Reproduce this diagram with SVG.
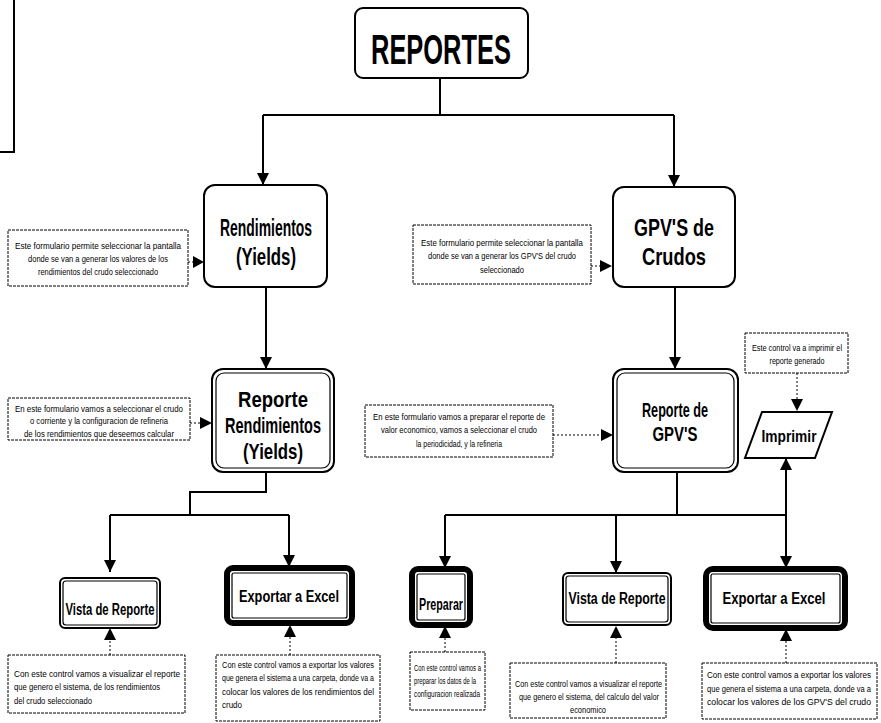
<svg xmlns="http://www.w3.org/2000/svg" width="881" height="723" viewBox="0 0 881 723">
  <defs>
    <marker id="arrow" viewBox="0 0 12 12" refX="12" refY="6" markerWidth="12" markerHeight="12" markerUnits="userSpaceOnUse" orient="auto">
      <path d="M0,0 L12,6 L0,12 Z" fill="#000"/>
    </marker>
    <style>
      .title { font-family: "Liberation Sans Narrow", "Liberation Sans", Arial, sans-serif; font-weight: bold; fill: #000; text-anchor: middle; }
      .desc { font-family: "Liberation Sans Narrow", "Liberation Sans", Arial, sans-serif; font-size: 9.5px; fill: #000; }
      .small { font-size: 8.5px; }
      .c { text-anchor: middle; }
      .box { fill: #fff; stroke: #000; stroke-width: 2; }
      .thin { fill: none; stroke: #000; stroke-width: 1.2; }
      .heavy { fill: #fff; stroke: #000; stroke-width: 6; }
      .note { fill: #fff; stroke: #000; stroke-width: 1; stroke-dasharray: 3 1; }
      .wire { fill: none; stroke: #000; stroke-width: 2; }
      .dot { fill: none; stroke: #000; stroke-width: 1; stroke-dasharray: 2 2; }
    </style>
  </defs>

  <!-- margin bracket -->
  <path d="M14,0 L14,152 L0,152" fill="none" stroke="#000" stroke-width="2"/>

  <!-- connectors -->
  <g id="connectors">
    <path class="wire" d="M440,78 V115 M263,115 H674"/>
    <path class="wire" d="M263,115 V185" marker-end="url(#arrow)"/>
    <path class="wire" d="M674,115 V187" marker-end="url(#arrow)"/>
    <path class="wire" d="M266,287 V369" marker-end="url(#arrow)"/>
    <path class="wire" d="M675,287 V369" marker-end="url(#arrow)"/>

    <path class="wire" d="M266,472 V492 H190 V515 M110,515 H289"/>
    <path class="wire" d="M110,515 V572" marker-end="url(#arrow)"/>
    <path class="wire" d="M289,515 V567" marker-end="url(#arrow)"/>

    <path class="wire" d="M677,472 V515 M445,515 H786"/>
    <path class="wire" d="M445,515 V568" marker-end="url(#arrow)"/>
    <path class="wire" d="M616,515 V573" marker-end="url(#arrow)"/>
    <path class="wire" d="M786,515 V568" marker-end="url(#arrow)"/>
    <path class="wire" d="M786,515 V458" marker-end="url(#arrow)"/>

    <path class="dot" d="M188,262 H193"/>
    <path d="M193,256 L204,262 L193,268 Z"/>
    <path class="dot" d="M591,266 H600"/>
    <path d="M600,260 L612,266 L600,272 Z"/>
    <path class="dot" d="M190,423 H200"/>
    <path d="M200,417 L212,423 L200,429 Z"/>
    <path class="dot" d="M553,435 H601"/>
    <path d="M601,429 L613,435 L601,441 Z"/>
    <path class="dot" d="M797,373 V399"/>
    <path d="M791,399 L797,411 L803,399 Z"/>

    <path class="dot" d="M110,655 V640"/>
    <path d="M104,640 L110,628 L116,640 Z"/>
    <path class="dot" d="M290,655 V637"/>
    <path d="M284,637 L290,625 L296,637 Z"/>
    <path class="dot" d="M445,652 V638"/>
    <path d="M439,638 L445,626 L451,638 Z"/>
    <path class="dot" d="M616,663 V638"/>
    <path d="M610,638 L616,626 L622,638 Z"/>
    <path class="dot" d="M786,663 V641"/>
    <path d="M780,641 L786,629 L792,641 Z"/>
  </g>

  <!-- top node -->
  <g id="reportes">
    <rect x="355" y="8" width="173" height="70" rx="8" class="box" stroke-width="1.5"/>
    <text class="title" x="441" y="64" font-size="42" textLength="140" lengthAdjust="spacingAndGlyphs">REPORTES</text>
  </g>

  <g id="rendimientos">
    <rect x="204" y="185" width="123" height="102" rx="11" class="box"/>
    <text class="title" x="266" y="236" font-size="23" textLength="92" lengthAdjust="spacingAndGlyphs">Rendimientos</text>
    <text class="title" x="266" y="265" font-size="23" textLength="60" lengthAdjust="spacingAndGlyphs">(Yields)</text>
  </g>

  <g id="gpvs-crudos">
    <rect x="613" y="187" width="122" height="100" rx="11" class="box"/>
    <text class="title" x="674" y="236" font-size="23" textLength="80" lengthAdjust="spacingAndGlyphs">GPV'S de</text>
    <text class="title" x="674" y="265" font-size="23" textLength="64" lengthAdjust="spacingAndGlyphs">Crudos</text>
  </g>

  <g id="reporte-rendimientos">
    <rect x="212" y="369" width="122" height="103" rx="11" class="box"/>
    <rect x="216" y="373" width="114" height="95" rx="8" class="thin"/>
    <text class="title" x="273" y="407" font-size="22" textLength="70" lengthAdjust="spacingAndGlyphs">Reporte</text>
    <text class="title" x="273" y="433" font-size="22" textLength="96" lengthAdjust="spacingAndGlyphs">Rendimientos</text>
    <text class="title" x="273" y="459" font-size="22" textLength="60" lengthAdjust="spacingAndGlyphs">(Yields)</text>
  </g>

  <g id="reporte-gpvs">
    <rect x="613" y="369" width="125" height="103" rx="11" class="box"/>
    <rect x="617" y="373" width="117" height="95" rx="8" class="thin"/>
    <text class="title" x="675" y="417" font-size="20" textLength="66" lengthAdjust="spacingAndGlyphs">Reporte de</text>
    <text class="title" x="675" y="441" font-size="20" textLength="45" lengthAdjust="spacingAndGlyphs">GPV'S</text>
  </g>

  <g id="imprimir">
    <polygon points="762,412 832,412 815,458 745,458" class="box"/>
    <text class="title" x="789" y="442" font-size="17" textLength="55" lengthAdjust="spacingAndGlyphs">Imprimir</text>
  </g>

  <!-- bottom controls -->
  <g id="vista-rendimientos">
    <rect x="60" y="578" width="100" height="50" rx="5" class="box"/>
    <rect x="63" y="581" width="94" height="44" rx="3" class="thin"/>
    <text class="title" x="110" y="615" font-size="16" textLength="89" lengthAdjust="spacingAndGlyphs">Vista de Reporte</text>
  </g>

  <g id="exportar-rendimientos">
    <rect x="227" y="568" width="125" height="55" rx="6" class="heavy"/>
    <rect x="232" y="573" width="115" height="45" rx="2" class="thin"/>
    <text class="title" x="289" y="602" font-size="16" textLength="100" lengthAdjust="spacingAndGlyphs">Exportar a Excel</text>
  </g>

  <g id="preparar">
    <rect x="412" y="569" width="58" height="56" rx="6" class="heavy"/>
    <rect x="417" y="574" width="48" height="46" rx="2" class="thin"/>
    <text class="title" x="441" y="610" font-size="16" textLength="44" lengthAdjust="spacingAndGlyphs">Preparar</text>
  </g>

  <g id="vista-gpvs">
    <rect x="563" y="573" width="108" height="52" rx="5" class="box"/>
    <rect x="566" y="576" width="102" height="46" rx="3" class="thin"/>
    <text class="title" x="617" y="604" font-size="16" textLength="97" lengthAdjust="spacingAndGlyphs">Vista de Reporte</text>
  </g>

  <g id="exportar-gpvs">
    <rect x="706" y="569" width="139" height="59" rx="7" class="heavy"/>
    <rect x="711" y="574" width="129" height="49" rx="2" class="thin"/>
    <text class="title" x="774" y="604" font-size="16" textLength="103" lengthAdjust="spacingAndGlyphs">Exportar a Excel</text>
  </g>

  <!-- notes -->
  <g id="nota-rendimientos">
    <rect x="8" y="230" width="180" height="56" class="note"/>
    <text class="desc c" x="98" y="249" textLength="166" lengthAdjust="spacingAndGlyphs">Este formulario permite seleccionar la pantalla</text>
    <text class="desc c" x="98" y="262" textLength="140" lengthAdjust="spacingAndGlyphs">donde se van a generar los valores de los</text>
    <text class="desc c" x="98" y="275" textLength="120" lengthAdjust="spacingAndGlyphs">rendimientos del crudo seleccionado</text>
  </g>

  <g id="nota-gpvs-crudos">
    <rect x="413" y="225" width="178" height="59" class="note"/>
    <text class="desc c" x="502" y="246" textLength="162" lengthAdjust="spacingAndGlyphs">Este formulario permite seleccionar la pantalla</text>
    <text class="desc c" x="502" y="259" textLength="148" lengthAdjust="spacingAndGlyphs">donde se van a generar los GPV'S del crudo</text>
    <text class="desc c" x="502" y="273" textLength="44" lengthAdjust="spacingAndGlyphs">seleccionado</text>
  </g>

  <g id="nota-reporte-rendimientos">
    <rect x="8" y="398" width="182" height="42" class="note"/>
    <text class="desc c" x="99" y="412" textLength="168" lengthAdjust="spacingAndGlyphs">En este formulario vamos a seleccionar el crudo</text>
    <text class="desc c" x="99" y="424" textLength="138" lengthAdjust="spacingAndGlyphs">o corriente y la configuracion de refineria</text>
    <text class="desc c" x="99" y="437" textLength="150" lengthAdjust="spacingAndGlyphs">de los rendimientos que deseemos calcular</text>
  </g>

  <g id="nota-reporte-gpvs">
    <rect x="365" y="405" width="188" height="52" class="note"/>
    <text class="desc c" x="459" y="420" textLength="172" lengthAdjust="spacingAndGlyphs">En este formulario vamos a preparar el reporte de</text>
    <text class="desc c" x="459" y="433" textLength="156" lengthAdjust="spacingAndGlyphs">valor economico, vamos a seleccionar el crudo</text>
    <text class="desc c" x="459" y="447" textLength="86" lengthAdjust="spacingAndGlyphs">la periodicidad, y la refineria</text>
  </g>

  <g id="nota-imprimir">
    <rect x="745" y="333" width="103" height="40" class="note"/>
    <text class="desc c" x="797" y="351" textLength="90" lengthAdjust="spacingAndGlyphs">Este control va a imprimir el</text>
    <text class="desc c" x="797" y="364" textLength="55" lengthAdjust="spacingAndGlyphs">reporte generado</text>
  </g>

  <g id="nota-vista-rendimientos">
    <rect x="8" y="655" width="177" height="58" class="note"/>
    <text class="desc" x="14" y="677" textLength="166" lengthAdjust="spacingAndGlyphs">Con este control vamos a visualizar el reporte</text>
    <text class="desc" x="14" y="690" textLength="146" lengthAdjust="spacingAndGlyphs">que genero el sistema, de los rendimientos</text>
    <text class="desc" x="14" y="704" textLength="78" lengthAdjust="spacingAndGlyphs">del crudo seleccionado</text>
  </g>

  <g id="nota-exportar-rendimientos">
    <rect x="216" y="655" width="164" height="66" class="note"/>
    <!-- condensed text block -->
    <g transform="translate(222,0) scale(0.8,1)">
      <text class="desc" x="0" y="668" textLength="190" lengthAdjust="spacingAndGlyphs">Con este control vamos a exportar los valores</text>
      <text class="desc" x="0" y="681" textLength="190" lengthAdjust="spacingAndGlyphs">que genera el sistema a una carpeta, donde va a</text>
      <text class="desc" x="0" y="695" textLength="190" lengthAdjust="spacingAndGlyphs">colocar los valores de los rendimientos del</text>
      <text class="desc" x="0" y="708" textLength="25" lengthAdjust="spacingAndGlyphs">crudo</text>
    </g>
  </g>

  <g id="nota-preparar">
    <rect x="410" y="652" width="75" height="58" class="note"/>
    <text class="desc small" x="414" y="671" textLength="67" lengthAdjust="spacingAndGlyphs">Con este control vamos a</text>
    <text class="desc small" x="414" y="684" textLength="62" lengthAdjust="spacingAndGlyphs">preparar los datos de la</text>
    <text class="desc small" x="414" y="697" textLength="66" lengthAdjust="spacingAndGlyphs">configuracion realizada</text>
  </g>

  <g id="nota-vista-gpvs">
    <rect x="510" y="663" width="156" height="55" class="note"/>
    <text class="desc" x="515" y="687" textLength="147" lengthAdjust="spacingAndGlyphs">Con este control vamos a visualizar el reporte</text>
    <text class="desc" x="519" y="700" textLength="140" lengthAdjust="spacingAndGlyphs">que genero el sistema, del calculo del valor</text>
    <text class="desc c" x="588" y="713" textLength="36" lengthAdjust="spacingAndGlyphs">economico</text>
  </g>

  <g id="nota-exportar-gpvs">
    <rect x="702" y="663" width="175" height="56" class="note"/>
    <!-- condensed text block -->
    <g transform="translate(707,0) scale(0.8,1)">
      <text class="desc" x="0" y="678" textLength="205" lengthAdjust="spacingAndGlyphs">Con este control vamos a exportar los valores</text>
      <text class="desc" x="0" y="692" textLength="205" lengthAdjust="spacingAndGlyphs">que genera el sistema a una carpeta, donde va a</text>
      <text class="desc" x="0" y="705" textLength="205" lengthAdjust="spacingAndGlyphs">colocar los valores de los GPV'S del crudo</text>
    </g>
  </g>
</svg>
